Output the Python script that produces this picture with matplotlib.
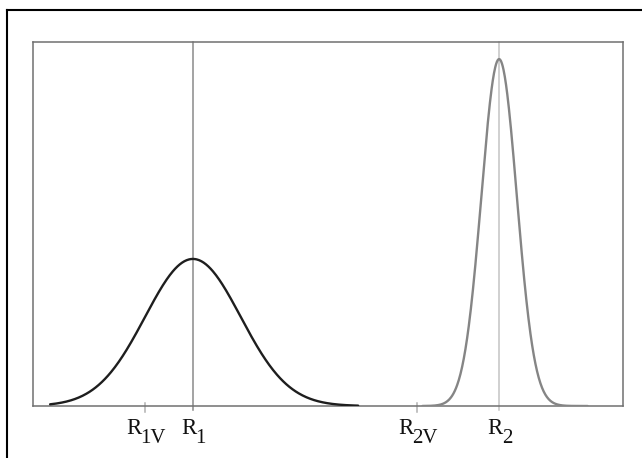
import numpy as np
import matplotlib
matplotlib.use("Agg")
import matplotlib.pyplot as plt
from matplotlib.lines import Line2D

# values (x axis runs 0..10, y axis 0..1)
peak_names = ["1", "2"]
peak_centers = [2.71, 7.90]
peak_widths = [0.81, 0.30]
peak_heights = [0.404, 0.953]
peak_ranges = [(0.29, 5.51), (6.6, 9.4)]
curve_colors = ["#1e1e1e", "#858585"]
line_colors = ["#8a8a8a", "#c4c4c4"]

marker_names = ["1V", "2V"]
marker_pos = [1.90, 6.51]

fig = plt.figure(figsize=(6.42, 4.58), dpi=100)
ax = fig.add_axes([33 / 642, 1 - 406 / 458, 590 / 642, 364 / 458])

# Gaussian peaks
for c, w, h, rng, col in zip(peak_centers, peak_widths, peak_heights, peak_ranges, curve_colors):
    xs = np.linspace(rng[0], rng[1], 400)
    ys = h * np.exp(-(xs - c) ** 2 / (2 * w ** 2))
    ax.plot(xs, ys, color=col, lw=1.7, solid_capstyle="round", zorder=3)

# vertical lines at the peaks
tr = ax.get_xaxis_transform()
for c, col in zip(peak_centers, line_colors):
    ax.add_line(Line2D([c, c], [-0.011, 1], transform=tr, color=col, lw=1.1,
                       clip_on=False, zorder=2))

# short tick marks
for m in marker_pos:
    ax.add_line(Line2D([m, m], [-0.017, 0.008], transform=tr, color="#b0b0b0",
                       lw=1.1, clip_on=False, zorder=2))

ax.set_xlim(0, 10)
ax.set_ylim(0, 1)
ax.set_xticks([])
ax.set_yticks([])
for s in ax.spines.values():
    s.set_color("#707070")
    s.set_linewidth(1.1)


def label(x, sub, dx):
    ax.annotate("R", xy=(x, 0), xycoords=tr, xytext=(dx, -20.2),
                textcoords="offset points", ha="right", va="baseline",
                fontsize=16.5, family="Liberation Serif", color="#111111")
    ax.annotate(sub, xy=(x, 0), xycoords=tr, xytext=(dx - 0.6, -26.6),
                textcoords="offset points", ha="left", va="baseline",
                fontsize=15, family="Liberation Serif", color="#111111")


for m, n in zip(marker_pos, marker_names):
    label(m, n, -2.9)
for c, n in zip(peak_centers, peak_names):
    label(c, n, 2.6)

# outer frame (left and top edges visible)
fig.add_artist(Line2D([7 / 642, 7 / 642], [0, 1 - 10 / 458], color="black", lw=1.5))
fig.add_artist(Line2D([7 / 642, 1], [1 - 10 / 458, 1 - 10 / 458], color="black", lw=1.5))

fig.savefig("out.png", dpi=100)
